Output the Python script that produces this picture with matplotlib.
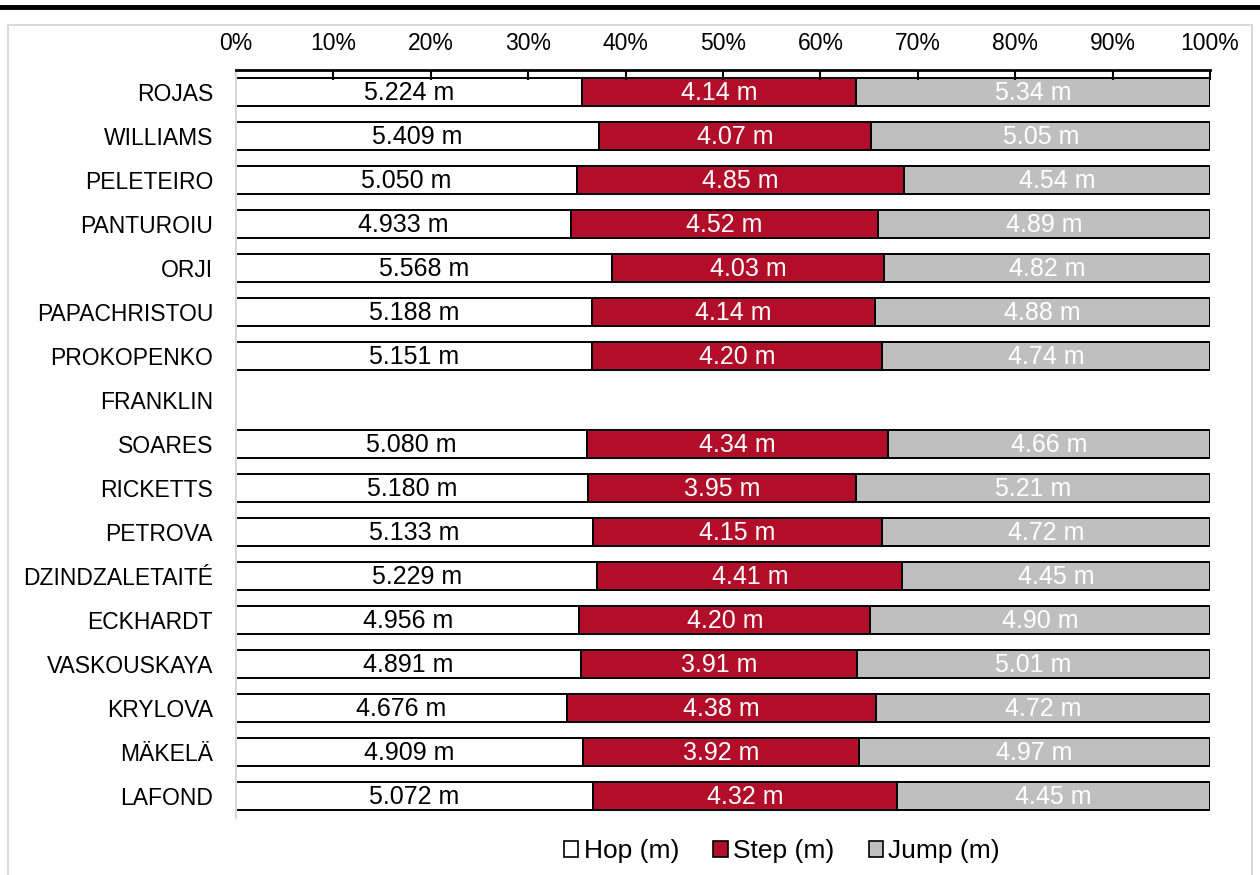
import numpy as np
import matplotlib
matplotlib.use("Agg")
import matplotlib.pyplot as plt
from matplotlib.lines import Line2D
from matplotlib.patches import Rectangle, Patch

plt.rcParams['font.family'] = ['Liberation Sans', 'DejaVu Sans']

athletes = ['ROJAS', 'WILLIAMS', 'PELETEIRO', 'PANTUROIU', 'ORJI', 'PAPACHRISTOU',
            'PROKOPENKO', 'FRANKLIN', 'SOARES', 'RICKETTS', 'PETROVA', 'DZINDZALETAITÉ',
            'ECKHARDT', 'VASKOUSKAYA', 'KRYLOVA', 'MÄKELÄ', 'LAFOND']
hop = [5.224, 5.409, 5.050, 4.933, 5.568, 5.188, 5.151, np.nan, 5.080, 5.180,
       5.133, 5.229, 4.956, 4.891, 4.676, 4.909, 5.072]
step = [4.14, 4.07, 4.85, 4.52, 4.03, 4.14, 4.20, np.nan, 4.34, 3.95,
        4.15, 4.41, 4.20, 3.91, 4.38, 3.92, 4.32]
jump = [5.34, 5.05, 4.54, 4.89, 4.82, 4.88, 4.74, np.nan, 4.66, 5.21,
        4.72, 4.45, 4.90, 5.01, 4.72, 4.97, 4.45]

series = [('Hop (m)', hop, '#FFFFFF', 'black', '{:.3f} m'),
          ('Step (m)', step, '#B20E2A', 'white', '{:.2f} m'),
          ('Jump (m)', jump, '#BFBFBF', 'white', '{:.2f} m')]

fig = plt.figure(figsize=(12.6, 8.75), dpi=100)

# outer decoration: thick top rule and light frame
fig.add_artist(Line2D([0, 1], [1 - 7 / 875, 1 - 7 / 875], color='black', lw=3.5,
                      transform=fig.transFigure))
fig.add_artist(Rectangle((8 / 1260, -0.01), 1244 / 1260, 1 - 25 / 875 + 0.01,
                         transform=fig.transFigure, fill=False,
                         edgecolor='#D9D9D9', lw=1.5))

ax = fig.add_axes([236 / 1260, 1 - 818 / 875, 974 / 1260, 748 / 875])

hop_a = np.array(hop)
step_a = np.array(step)
jump_a = np.array(jump)
total = hop_a + step_a + jump_a
ok = ~np.isnan(total)
ypos = np.arange(len(athletes))

left = np.zeros(len(athletes))
for name, vals, color, tcolor, fmt in series:
    vals = np.array(vals)
    pct = vals / total * 100
    ax.barh(ypos[ok], pct[ok], left=left[ok], height=0.62, color=color,
            edgecolor='black', linewidth=1.4, label=name)
    for i in ypos[ok]:
        ax.text(left[i] + pct[i] / 2, i + 0.02, fmt.format(vals[i]), ha='center',
                va='center', color=tcolor, fontsize=18)
    left = left + np.nan_to_num(pct)

ax.set_xlim(0, 100)
ax.set_ylim(len(athletes) - 0.5, -0.5)
ax.set_yticks(ypos)
ax.set_yticklabels(athletes, fontsize=16.5)
ax.tick_params(axis='y', length=0, pad=16.5)
ax.set_xticks(np.arange(0, 101, 10))
ax.set_xticklabels([f'{v}%' for v in range(0, 101, 10)], fontsize=16.5)
ax.xaxis.tick_top()
ax.tick_params(axis='x', direction='in', length=7, width=1.5, pad=10.5)

for s in ['right', 'bottom']:
    ax.spines[s].set_visible(False)
ax.spines['top'].set_linewidth(2)
ax.spines['left'].set_color('#D9D9D9')
ax.spines['left'].set_linewidth(1.5)

handles = [Patch(facecolor=c, edgecolor='black', lw=1.2, label=n)
           for n, _, c, _, _ in series]
fig.legend(handles=handles, loc='center', bbox_to_anchor=(782 / 1260, 1 - 851 / 875),
           ncol=3, frameon=False, fontsize=19, handlelength=0.55, handleheight=0.55,
           handletextpad=0.2, columnspacing=1.3)

fig.savefig('out.png', dpi=100)
